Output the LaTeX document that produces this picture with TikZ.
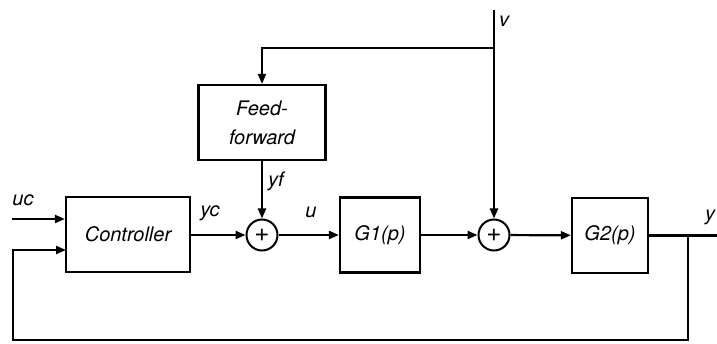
\documentclass[tikz,border=0pt]{standalone}
\usepackage{fontspec}
\setmainfont{TeX Gyre Heros}
\usetikzlibrary{arrows.meta}

\tikzset{
  block/.style={draw, line width=2.2pt, minimum height=75pt, inner sep=0pt,
                font=\fontsize{20}{25}\selectfont\itshape, align=center},
  sumnode/.style={draw, circle, line width=2pt, minimum size=31pt, inner sep=0pt,
                  font=\fontsize{26}{26}\selectfont},
  sig/.style={line width=2.2pt, -{Triangle[length=10pt,width=8pt]}},
  wire/.style={line width=2.2pt},
  lbl/.style={font=\fontsize{20}{20}\selectfont\itshape}
}

\begin{document}
\begin{tikzpicture}[x=1pt, y=-1pt]
        \useasboundingbox (0,0) rectangle (717,344);
        % blocks
        \node[block, minimum width=124pt] (ctrl) at (128,234.5) {Controller};
        \node[block, minimum width=127pt, minimum height=75pt] (ff) at (262,122.5) {Feed-\\[4pt]forward};
        \node[block, minimum width=80pt] (gone) at (380,235) {G1(p)};
        \node[block, minimum width=76pt] (gtwo) at (610,235.5) {G2(p)};
        \node[sumnode] (sone) at (262,235) {+};
        \node[sumnode] (stwo) at (494,235) {+};
        % free ends
        \coordinate (ucin) at (12,219);
        \coordinate (vtop) at (494,10);
        \coordinate (vbr) at (494,48);
        \coordinate (yout) at (717,235.5);
        \coordinate (ybr) at (688,235.5);
        \coordinate (fbl) at (13,340);
        \coordinate (fbin) at (66,250);
        % signals
        \draw[sig] (ucin) -- (ucin -| ctrl.west);
        \draw[sig] (ctrl.east |- sone) -- (sone);
        \draw[sig] (ff) -- (sone);
        \draw[sig] (sone) -- (gone);
        \draw[sig] (gone) -- (stwo);
        \draw[sig] (stwo) -- (gtwo);
        \draw[sig] (vtop) -- (stwo);
        \draw[sig] (vbr) -| (ff);
        \draw[wire] (gtwo.east |- yout) -- (yout);
        \draw[sig] (ybr) |- (fbl) |- (fbin);
        % labels
        \node[lbl] (luc) at (23,200) {uc};
        \node[lbl] (lyc) at (210,213) {yc};
        \node[lbl] (lu) at (311,212) {u};
        \node[lbl] (lyf) at (276,181) {yf};
        \node[lbl] (lv) at (504,21) {v};
        \node[lbl] (ly) at (710,217) {y};
    \end{tikzpicture}
\end{document}
